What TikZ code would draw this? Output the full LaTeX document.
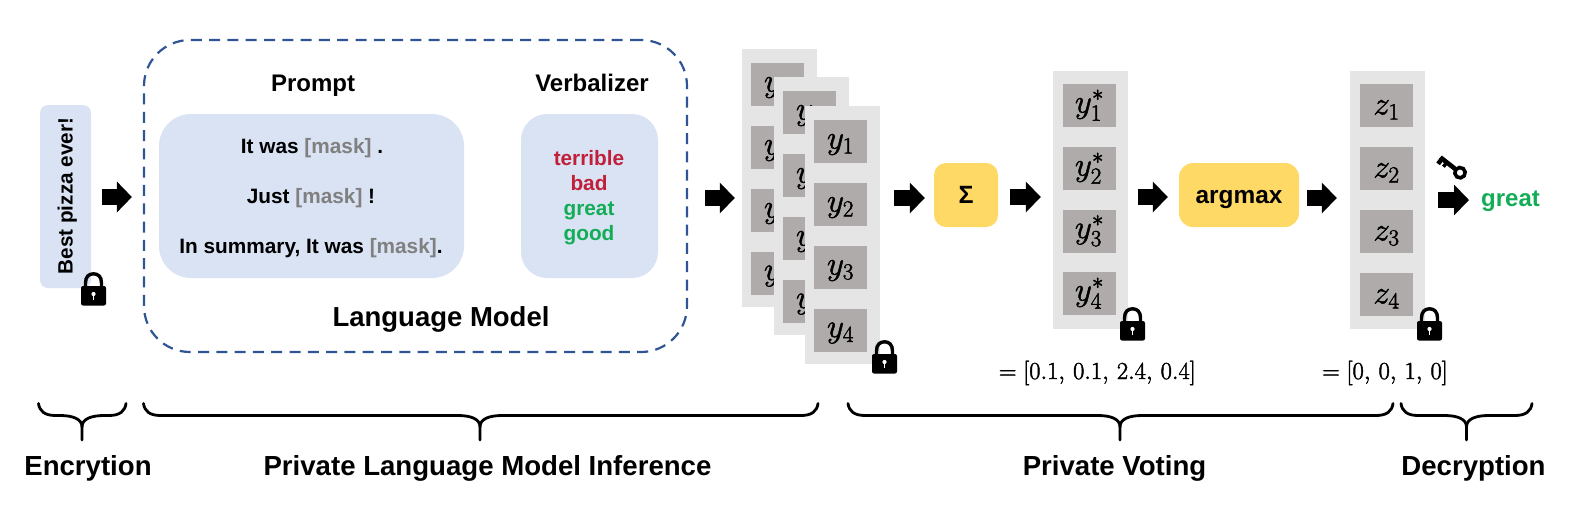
\RequirePackage{fix-cm}
\documentclass[tikz,border=0pt]{standalone}
\usepackage{fontspec}
\setmainfont{Liberation Sans}
\usetikzlibrary{arrows.meta}
\definecolor{softblue}{HTML}{DAE3F3}
\definecolor{dashblue}{HTML}{2F5597}
\definecolor{stackgray}{HTML}{E5E5E5}
\definecolor{cellgray}{HTML}{AFABAB}
\definecolor{sunny}{HTML}{FFD966}
\definecolor{maskgray}{HTML}{808080}
\definecolor{wordred}{HTML}{C0203A}
\definecolor{wordgreen}{HTML}{12AD56}
\newcommand{\fsz}[1]{\fontsize{#1}{#1}\selectfont}
\newcommand{\mk}{\textcolor{maskgray}{[mask]}}
\newcommand{\heavy}[1]{\special{pdf:code 2 Tr 0.45 w}#1\special{pdf:code 0 Tr 1 w}}
\newcommand{\cellmath}[2]{\fsz{33}\smash{\raisebox{#1}{\heavy{$#2$}}}}
\tikzset{
  x=1pt,y=-1pt,
  softbox/.style={fill=softblue,draw=none,inner sep=0pt,rounded corners=#1},
  sunbox/.style={fill=sunny,draw=none,inner sep=0pt,rounded corners=#1},
  stackbox/.style={fill=stackgray,draw=none,inner sep=0pt,minimum width=75pt,minimum height=258pt},
  cellbox/.style={fill=cellgray,draw=none,inner sep=0pt,minimum width=53pt,minimum height=43pt,text=black},
  boldlabel/.style={font=\bfseries\fsz{#1},inner sep=0pt,text=black,anchor=base},
  blockarrow/.style={draw=black,line width=16pt,-{Triangle[length=15pt,width=30pt]}},
  bracestyle/.style={draw=black,line width=2.8pt,line cap=round},
  pics/padlock/.style={code={
    \draw[black,line width=3.4pt] (4.5,17) -- (4.5,11) .. controls (4.5,4.5) and (8,1.8) .. (12.5,1.8) .. controls (17,1.8) and (20.5,4.5) .. (20.5,11) -- (20.5,17);
    \fill[black,rounded corners=2pt] (0,14) rectangle (25,33.5);
    \fill[white] (12.5,22) circle (2.1pt);
    \fill[white] (11.6,22) rectangle (13.4,28);
  }},
  pics/thekey/.style={code={
    \draw[black,line width=3.6pt] (0,0) circle (5.2pt);
    \fill[black] (-6,-2.3) rectangle (-25,2.3);
    \fill[black] (-15,0) rectangle (-18.5,5.5);
    \fill[black] (-20.5,0) rectangle (-25,6.5);
  }},
}
\newcommand{\bracket}[4]{% left, stem, right, name
  \draw[bracestyle] (#1,403.5) .. controls (#1+1,411) and (#1+6,415.5) .. (#1+17,415.5) -- (#2-22,415.5) .. controls (#2-9,415.5) and (#2,419) .. (#2,427) -- (#2,440);
  \draw[bracestyle] (#3,403.5) .. controls (#3-1,411) and (#3-6,415.5) .. (#3-17,415.5) -- (#2+22,415.5) .. controls (#2+9,415.5) and (#2,419) .. (#2,427);
  \coordinate (#4) at (#2,440);
}
\begin{document}
\begin{tikzpicture}
\useasboundingbox (0,0) rectangle (1576,507);

% encryption input
\node[softbox=8pt,minimum width=51pt,minimum height=183pt] (pizza) at (65.5,196.5) {};
\node[boldlabel=20.7,rotate=90] (pizzatext) at (72.7,196) {Best pizza ever!};
\pic at (81,272) {padlock};

% language model
\node[draw=dashblue,line width=2.2pt,dash pattern=on 11pt off 7.3pt,rounded corners=46pt,inner sep=0pt,minimum width=543pt,minimum height=312pt] (model) at (415.5,196) {};
\node[boldlabel=24] (prompthead) at (313,91) {Prompt};
\node[boldlabel=24] (verbhead) at (592,91) {Verbalizer};
\node[softbox=32pt,minimum width=305pt,minimum height=164pt] (prompt) at (311.5,196) {};
\node[softbox=26pt,minimum width=137pt,minimum height=164pt] (verb) at (589.5,196) {};
\node[boldlabel=20.8] (p1) at (312,153) {It was \mk{} .};
\node[boldlabel=20.8] (p2) at (311,203) {Just \mk{} !};
\node[boldlabel=20.8] (p3) at (311,253) {In summary, It was \mk{}.};
\node[boldlabel=20.8,text=wordred] (v1) at (589,165) {terrible};
\node[boldlabel=20.8,text=wordred] (v2) at (589,190) {bad};
\node[boldlabel=20.8,text=wordgreen] (v3) at (589,215) {great};
\node[boldlabel=20.8,text=wordgreen] (v4) at (589,240) {good};
\node[boldlabel=27.5] (lm) at (441,326) {Language Model};

% stacked ciphertext columns
\foreach \nm/\sx/\sy in {sa/779.5/178, sb/811.5/206, sc/842.5/235}{
  \node[stackbox] (\nm) at (\sx,\sy) {};
  \foreach \i/\dy in {1/-93.5,2/-30.5,3/32.5,4/95}{
    \node[cellbox] (\nm c\i) at (\sx-2,\sy+\dy) {\cellmath{-7pt}{y_{\i}}};
  }
}
\pic at (872,340) {padlock};

% sum
\node[sunbox=12pt,minimum width=64pt,minimum height=64pt,font=\bfseries\fsz{25}] (sum) at (966,195) {Σ};

% aggregated column
\node[stackbox] (ystar) at (1090.5,200) {};
\foreach \i/\cy in {1/105.5,2/168.5,3/231,4/293.5}{
  \node[cellbox] (yc\i) at (1089.5,\cy) {\cellmath{-7pt}{y^{*}_{\i}}};
}
\pic at (1120,307) {padlock};
\node[inner sep=0pt,anchor=base east] (ysum) at (1196,379) {\fsz{24.4}\heavy{$=[0.1,\,0.1,\,2.4,\,0.4]$}};

% argmax
\node[sunbox=14pt,minimum width=120pt,minimum height=64pt] (argmax) at (1239,195) {};
\node[boldlabel=24.4] (argtext) at (1239,203) {argmax};

% result column
\node[stackbox] (zcol) at (1387.5,200) {};
\foreach \i/\cy in {1/105.5,2/168.5,3/231.5,4/294.5}{
  \node[cellbox] (zc\i) at (1386.5,\cy) {\cellmath{-9pt}{z_{\i}}};
}
\pic at (1417,307) {padlock};
\node[inner sep=0pt,anchor=base east] (zsum) at (1448,379) {\fsz{24.4}\heavy{$=[0,\,0,\,1,\,0]$}};

% output
\pic[rotate=-38] at (1460,172.7) {thekey};
\node[boldlabel=24,text=wordgreen,anchor=base west] (great) at (1481,206) {great};

% block arrows
\draw[blockarrow,shorten <=11pt,shorten >=11pt] (pizza.east |- 0,197) -- (model.west |- 0,197);
\draw[blockarrow,shorten <=17pt,shorten >=7pt] (model.east |- 0,198) -- (sa.west |- 0,198);
\draw[blockarrow,shorten <=14pt,shorten >=9pt] (sc.east |- 0,198) -- (sum.west |- 0,198);
\draw[blockarrow,shorten <=12pt,shorten >=12pt] (sum.east |- 0,197) -- (ystar.west |- 0,197);
\draw[blockarrow,shorten <=10pt,shorten >=11pt] (ystar.east |- 0,197) -- (argmax.west |- 0,197);
\draw[blockarrow,shorten <=8pt,shorten >=13pt] (argmax.east |- 0,198) -- (zcol.west |- 0,198);
\draw[blockarrow,shorten <=13pt,shorten >=12pt] (zcol.east |- 0,200) -- (great.west |- 0,200);

% braces and phase labels
\bracket{38.5}{82}{126}{bea}
\bracket{143.5}{480}{818}{beb}
\bracket{848}{1120}{1393}{bec}
\bracket{1401}{1466.5}{1532}{bed}
\node[boldlabel=27.6] (enc) at (88,475) {Encrytion};
\node[boldlabel=27.6] (inf) at (487.5,475) {Private Language Model Inference};
\node[boldlabel=27.6] (vot) at (1114.5,475) {Private Voting};
\node[boldlabel=27.6] (dec) at (1473.5,475) {Decryption};
\end{tikzpicture}
\end{document}
